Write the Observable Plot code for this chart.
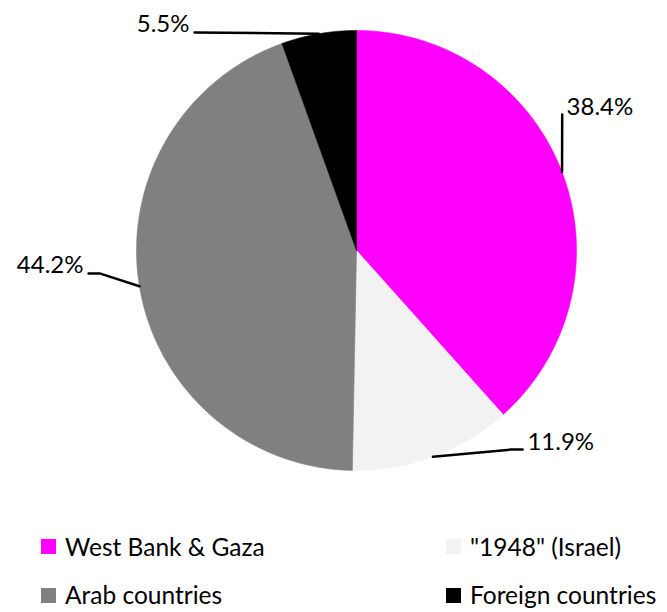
<!DOCTYPE html>
<html><head><meta charset="utf-8">
<script src="https://cdn.jsdelivr.net/npm/d3@7"></script>
<script src="https://cdn.jsdelivr.net/npm/@observablehq/plot@0.6"></script>
<style>
body{margin:0;background:#fff;font-family:Lato,"Open Sans",sans-serif;}
#chart{width:667px;height:520px;}
#legend{position:relative;width:667px;height:92px;overflow:hidden;}
.item{position:absolute;display:flex;align-items:center;font-size:24.5px;line-height:30px;color:#000;white-space:nowrap;}
.sw{width:15px;height:15px;margin-right:9px;flex:none;}
</style></head><body>
<div id="chart"></div><div id="legend"></div>
<script>
const categories = ["West Bank & Gaza", "\"1948\" (Israel)", "Arab countries", "Foreign countries"];
const shares = [38.4, 11.9, 44.2, 5.5];
const labels = ["38.4%", "11.9%", "44.2%", "5.5%"];
const colors = ["#FF00FF", "#F2F2F2", "#808080", "#000000"];
// label placement in unit-radius pie coordinates (separate from data)
const labelLayout = [
  {elbows: [[0.935, -0.618]], text: [0.955, -0.652], anchor: "start"},
  {elbows: [[0.700, 0.905], [0.755, 0.905]], text: [0.777, 0.870], anchor: "start"},
  {elbows: [[-1.164, 0.105], [-1.218, 0.105]], text: [-1.241, 0.068], anchor: "end"},
  {elbows: [[-0.736, -0.991]], text: [-0.759, -1.030], anchor: "end"}
];

const arcs = d3.pie().sort(null).value(d => d)(shares);
const slicePts = [];
arcs.forEach((a, i) => {
  slicePts.push({name: categories[i], x: 0, y: 0});
  const n = Math.max(2, Math.ceil((a.endAngle - a.startAngle) / 0.004));
  for (let k = 0; k <= n; k++) {
    const t = a.startAngle + (a.endAngle - a.startAngle) * k / n;
    slicePts.push({name: categories[i], x: Math.sin(t), y: -Math.cos(t)});
  }
  slicePts.push({name: categories[i], x: 0, y: 0});
});
const leaderPts = [];
const textPts = [];
arcs.forEach((a, i) => {
  const m = (a.startAngle + a.endAngle) / 2;
  leaderPts.push({label: labels[i], x: Math.sin(m), y: -Math.cos(m)});
  labelLayout[i].elbows.forEach(([x, y]) => leaderPts.push({label: labels[i], x, y}));
  textPts.push({label: labels[i], x: labelLayout[i].text[0], y: labelLayout[i].text[1], anchor: labelLayout[i].anchor});
});

const chart = Plot.plot({
  width: 667, height: 520, margin: 0,
  style: {fontFamily: "Lato, 'Open Sans', sans-serif", background: "#fff"},
  x: {domain: [-1, 1], range: [136, 576], axis: null},
  y: {domain: [-1, 1], range: [30, 470], axis: null},
  color: {domain: categories, range: colors},
  marks: [
    Plot.line(slicePts, {x: "x", y: "y", z: "name", fill: "name", stroke: "name", strokeWidth: 0.6, curve: "linear"}),
    Plot.line(leaderPts, {x: "x", y: "y", z: "label", stroke: "#000", strokeWidth: 2.5, curve: "linear"}),
    Plot.text(textPts.filter(d => d.anchor === "start"), {x: "x", y: "y", text: "label", textAnchor: "start", fontSize: 24, fill: "#000"}),
    Plot.text(textPts.filter(d => d.anchor === "end"), {x: "x", y: "y", text: "label", textAnchor: "end", fontSize: 24, fill: "#000"})
  ]
});
document.getElementById("chart").appendChild(chart);

const legendPos = [[41, 11.5], [446, 11.5], [41, 60], [446, 60]];
const legend = d3.select("#legend");
categories.forEach((c, i) => {
  const it = legend.append("div").attr("class", "item")
    .style("left", legendPos[i][0] + "px").style("top", legendPos[i][1] + "px");
  it.append("div").attr("class", "sw").style("background", colors[i]);
  it.append("span").text(c);
});
</script>
</body></html>
